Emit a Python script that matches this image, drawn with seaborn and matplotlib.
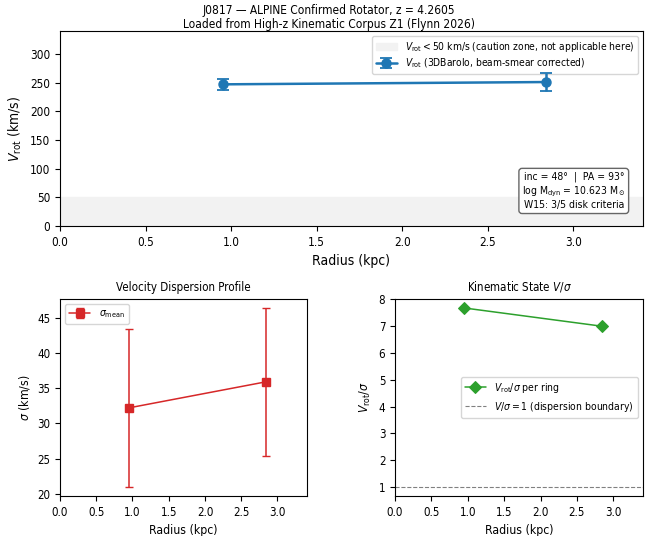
import numpy as np
import pandas as pd
import matplotlib
matplotlib.use("Agg")
import matplotlib.pyplot as plt
import seaborn as sns

# -----------------------------
# DATA
# -----------------------------
radius_kpc = [0.95, 2.84]
vrot = [247.0, 251.0]
vrot_err = [10.0, 15.0]
sigma_mean = [32.2, 35.9]
sigma_err = [11.25, 10.5]
v_over_sigma = [v / s for v, s in zip(vrot, sigma_mean)]

caution_v = 50
info_lines = [
    "inc = 48°  |  PA = 93°",
    r"log M$_{\rm dyn}$ = 10.623 M$_\odot$",
    "W15: 3/5 disk criteria",
]

sns.set_style("ticks", {"axes.edgecolor": "black", "xtick.color": "black",
                        "ytick.color": "black", "text.color": "black",
                        "axes.labelcolor": "black"})
plt.rcParams["font.family"] = ["DejaVu Sans"]
plt.rcParams["font.stretch"] = "condensed"
plt.rcParams["axes.linewidth"] = 0.8

df = pd.DataFrame({"r": radius_kpc, "vrot": vrot, "sigma": sigma_mean,
                   "vs": v_over_sigma})

fig = plt.figure(figsize=(6.57, 5.36), dpi=100)
W, H = 657, 536


def px_axes(l, t, r, b):
    return fig.add_axes([l / W, 1 - b / H, (r - l) / W, (b - t) / H])


ax_top = px_axes(60, 31, 643, 226)
ax_sig = px_axes(60, 299, 307, 496)
ax_vs = px_axes(395, 299, 643, 496)

xmax = max(radius_kpc) * 1.2

# -----------------------------
# ROTATION CURVE
# -----------------------------
ax_top.axhspan(0, caution_v, color="#f2f2f2", zorder=0,
               label=r"$V_{\rm rot} < 50$ km/s (caution zone, not applicable here)")
ax_top.errorbar(df["r"], df["vrot"], yerr=vrot_err, fmt="o-", color="tab:blue",
                lw=1.8, ms=6.5, capsize=4, capthick=1.3,
                label=r"$V_{\rm rot}$ (3DBarolo, beam-smear corrected)")
ax_top.set_xlim(0, xmax)
ax_top.set_ylim(0, 340)
ax_top.set_xlabel("Radius (kpc)", fontsize=10)
ax_top.set_ylabel(r"$V_{\rm rot}$ (km/s)", fontsize=10)
ax_top.tick_params(labelsize=8.5)
leg = ax_top.legend(loc="upper right", fontsize=7.4, labelspacing=0.3,
                    borderpad=0.35)
leg.set_zorder(1)
ax_top.text(0.97, 0.08, "\n".join(info_lines), transform=ax_top.transAxes,
            ha="right", va="bottom", fontsize=7.5, multialignment="center",
            bbox=dict(boxstyle="round,pad=0.3", fc="white", ec="0.4"))

# -----------------------------
# DISPERSION
# -----------------------------
ax_sig.errorbar(df["r"], df["sigma"], yerr=sigma_err, fmt="s-", color="tab:red",
                lw=1.1, ms=5.5, capsize=3, label=r"$\sigma_{\rm mean}$")
ax_sig.set_xlim(0, xmax)
ax_sig.set_xticks(np.arange(0, 3.01, 0.5))
ax_sig.set_xlabel("Radius (kpc)", fontsize=8.8)
ax_sig.set_ylabel(r"$\sigma$ (km/s)", fontsize=8.8)
ax_sig.set_title("Velocity Dispersion Profile", fontsize=8.3)
ax_sig.tick_params(labelsize=8.3)
ax_sig.legend(loc="upper left", fontsize=7.5)

# -----------------------------
# V / SIGMA
# -----------------------------
sns.lineplot(data=df, x="r", y="vs", ax=ax_vs, color="tab:green", marker="D",
             markersize=6, markeredgecolor="tab:green", lw=1.1,
             label=r"$V_{\rm rot}/\sigma$ per ring")
ax_vs.axhline(1, color="gray", ls="--", lw=0.8,
              label=r"$V/\sigma = 1$ (dispersion boundary)")
ax_vs.set_xlim(0, xmax)
ax_vs.set_xticks(np.arange(0, 3.01, 0.5))
ax_vs.set_xlabel("Radius (kpc)", fontsize=8.8)
ax_vs.set_ylabel(r"$V_{\rm rot}/\sigma$", fontsize=8.8)
ax_vs.set_title(r"Kinematic State $V/\sigma$", fontsize=8.3)
ax_vs.tick_params(labelsize=8.3)
ax_vs.legend(loc="center right", fontsize=7.5)

fig.suptitle("J0817 — ALPINE Confirmed Rotator, z = 4.2605\n"
             "Loaded from High-z Kinematic Corpus Z1 (Flynn 2026)",
             fontsize=8.6, y=0.993, linespacing=1.15)

fig.savefig("out.png", dpi=100)
